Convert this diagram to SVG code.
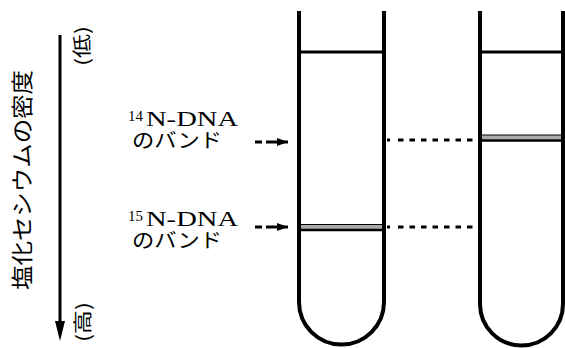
<svg xmlns="http://www.w3.org/2000/svg" width="565" height="348" viewBox="0 0 565 348">
<style>
.tube{fill:none;stroke:#000;stroke-width:4}
.lvl{stroke:#000;stroke-width:3}
.band{fill:#aaa}
.bl{stroke:#000}
.dot{stroke:#000;stroke-width:3;stroke-dasharray:5.5 6}
.lat{font-family:"Liberation Serif","Times New Roman",serif;fill:#000}
.jp{font-family:"Noto Sans CJK JP",sans-serif;fill:#000}
</style>
<defs>
<marker id="ah" markerWidth="11" markerHeight="8" refX="11" refY="4" orient="auto" markerUnits="userSpaceOnUse">
<polygon points="0,0 11,4 0,8" fill="#000"/>
</marker>
</defs>
<rect width="565" height="348" fill="#fff"/>

<g id="density-axis">
<line x1="60" y1="35" x2="60" y2="324" stroke="#000" stroke-width="3"/>
<polygon points="55,321 65,321 60,341" fill="#000"/>
<text class="jp" font-size="22" transform="translate(30,180) rotate(-90)" text-anchor="middle" textLength="220" lengthAdjust="spacingAndGlyphs">塩化セシウムの密度</text>
<text class="jp" font-size="19" transform="translate(89,46) rotate(-90)" text-anchor="middle" textLength="40" lengthAdjust="spacingAndGlyphs">(低)</text>
<text class="jp" font-size="19" transform="translate(90,322) rotate(-90)" text-anchor="middle" textLength="40" lengthAdjust="spacingAndGlyphs">(高)</text>
</g>

<g id="label-14N">
<text class="lat" x="128" y="121" font-size="14" textLength="15" lengthAdjust="spacingAndGlyphs">14</text>
<text class="lat" x="146" y="126" font-size="21" textLength="92" lengthAdjust="spacingAndGlyphs">N-DNA</text>
<text class="jp" x="132" y="148" font-size="20" textLength="90" lengthAdjust="spacingAndGlyphs">のバンド</text>
</g>

<g id="label-15N">
<text class="lat" x="128" y="221" font-size="14" textLength="15" lengthAdjust="spacingAndGlyphs">15</text>
<text class="lat" x="146" y="226" font-size="21" textLength="92" lengthAdjust="spacingAndGlyphs">N-DNA</text>
<text class="jp" x="132" y="248" font-size="20" textLength="90" lengthAdjust="spacingAndGlyphs">のバンド</text>
</g>

<g id="tube1">
<path class="tube" d="M299,11 V302 A42.5,42.5 0 0 0 384,302 V11"/>
<line class="lvl" x1="300" y1="52" x2="383" y2="52"/>
<rect class="band" x="301" y="224.5" width="81" height="4.5"/>
<line class="bl" x1="301" y1="224.5" x2="382" y2="224.5" stroke-width="1"/>
<line class="bl" x1="301" y1="230" x2="382" y2="230" stroke-width="2.5"/>
</g>

<g id="tube2">
<path class="tube" d="M480,11 V304 A41.5,41.5 0 0 0 563,304 V11"/>
<line class="lvl" x1="481" y1="52" x2="562" y2="52"/>
<rect class="band" x="482" y="135" width="79" height="4.5"/>
<line class="bl" x1="482" y1="135" x2="561" y2="135" stroke-width="1"/>
<line class="bl" x1="482" y1="140.5" x2="561" y2="140.5" stroke-width="2.5"/>
</g>

<g id="connectors">
<line x1="255" y1="142" x2="262" y2="142" stroke="#000" stroke-width="3"/>
<line x1="266" y1="142" x2="288" y2="142" stroke="#000" stroke-width="3" marker-end="url(#ah)"/>
<line x1="255" y1="227" x2="262" y2="227" stroke="#000" stroke-width="3"/>
<line x1="266" y1="227" x2="288" y2="227" stroke="#000" stroke-width="3" marker-end="url(#ah)"/>
<line x1="387" y1="140" x2="390" y2="140" stroke="#000" stroke-width="3"/>
<line class="dot" x1="398" y1="140" x2="473" y2="140"/>
<line x1="387" y1="227" x2="390" y2="227" stroke="#000" stroke-width="3"/>
<line class="dot" x1="398" y1="227" x2="473" y2="227"/>
</g>
</svg>
